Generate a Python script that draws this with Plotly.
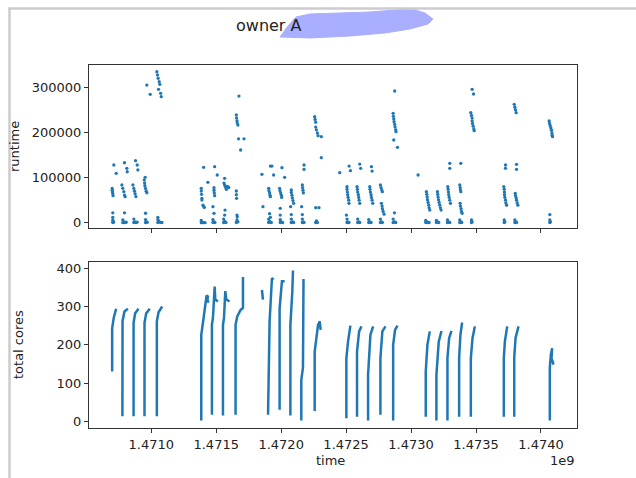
import plotly.graph_objects as go

# time is in units of 1e9 seconds (as shown on the axis with the "1e9" offset)
# ---------------- top panel: runtime of individual jobs ----------------
runtime_week1 = [
    (1.470704, 500), (1.470704, 6000), (1.470707, 3000), (1.470710, 1000), (1.470704, 12000), (1.470704, 22000),
    (1.470699, 76000), (1.470700, 72000), (1.470702, 68000), (1.470704, 64000), (1.470706, 60000),
    (1.470712, 128000), (1.470730, 109500),
    (1.470781, 0), (1.470781, 6000), (1.470789, 2000), (1.470797, 500), (1.470807, 1000), (1.470794, 22000),
    (1.470774, 83600), (1.470781, 76200), (1.470789, 68800), (1.470794, 61400), (1.470799, 57700),
    (1.470794, 133000), (1.470812, 120500), (1.470815, 113000),
    (1.470866, 500), (1.470866, 8000), (1.470874, 2000), (1.470884, 500), (1.470892, 1500),
    (1.470859, 83600), (1.470866, 76000), (1.470871, 70000), (1.470876, 64000), (1.470882, 58000),
    (1.470879, 137500), (1.470892, 128000), (1.470897, 117000),
    (1.470956, 500), (1.470956, 7000), (1.470961, 2000), (1.470969, 1000), (1.470956, 21000),
    (1.470946, 94700), (1.470949, 88000), (1.470951, 82000), (1.470956, 76000), (1.470961, 70000), (1.470966, 66500),
    (1.470953, 100600),
    (1.471051, 500), (1.471051, 7000), (1.471051, 12000), (1.471059, 3000), (1.471069, 800), (1.471082, 500),
    (1.471043, 334900), (1.471048, 327500), (1.471053, 320100), (1.471061, 312700), (1.471066, 306800),
    (1.471056, 295700), (1.471072, 286800), (1.471077, 279500),
    (1.470966, 305300), (1.470992, 284600),
]
runtime_week2 = [
    (1.471385, 0), (1.471393, 0), (1.471403, 300), (1.471414, 0), (1.471385, 5000),
    (1.471385, 76200), (1.471385, 70300), (1.471387, 62900), (1.471390, 54000), (1.471390, 50300),
    (1.471398, 39000), (1.471403, 37000), (1.471408, 34000),
    (1.471403, 122800), (1.471436, 89500),
    (1.471475, 500), (1.471475, 7000), (1.471483, 2000), (1.471490, 500), (1.471483, 20800), (1.471475, 35500),
    (1.471483, 77700), (1.471483, 72000), (1.471485, 66000), (1.471488, 60000),
    (1.471488, 124200), (1.471508, 105800),
    (1.471557, 500), (1.471557, 8000), (1.471565, 3000), (1.471575, 500), (1.471565, 17000), (1.471568, 28000),
    (1.471565, 98400), (1.471560, 88000), (1.471565, 83600), (1.471570, 79000), (1.471578, 74000),
    (1.471583, 79900), (1.471590, 79900), (1.471596, 78000),
    (1.471655, 500), (1.471660, 6000), (1.471662, 13000), (1.471667, 2000), (1.471660, 17000),
    (1.471655, 70300), (1.471655, 62000), (1.471657, 54000),
    (1.471655, 238800), (1.471657, 232000), (1.471660, 226000), (1.471662, 221000), (1.471667, 216600),
    (1.471675, 280900), (1.471672, 186000), (1.471714, 186000), (1.471688, 161200),
]
runtime_week3 = [
    (1.471852, 107200), (1.471860, 35500),
    (1.471904, 500), (1.471904, 8000), (1.471911, 3000), (1.471917, 12000), (1.471924, 500), (1.471911, 20000),
    (1.471904, 76200), (1.471906, 71000), (1.471911, 66000), (1.471914, 61000), (1.471917, 57700),
    (1.471917, 125700), (1.471929, 125700), (1.471942, 105800),
    (1.471993, 500), (1.471993, 7000), (1.472001, 2000), (1.472011, 500), (1.471993, 17000), (1.471993, 31900),
    (1.471988, 76200), (1.471991, 71000), (1.471996, 66000), (1.472001, 61000), (1.472004, 56000),
    (1.472006, 122000), (1.472027, 100600),
    (1.472078, 500), (1.472078, 8000), (1.472086, 2000), (1.472096, 500), (1.472073, 35500), (1.472078, 18000),
    (1.472078, 72500), (1.472078, 67000), (1.472083, 61000), (1.472086, 55000), (1.472091, 49000), (1.472096, 43000),
    (1.472163, 500), (1.472163, 8000), (1.472168, 2000), (1.472176, 500), (1.472158, 35500), (1.472163, 18000),
    (1.472163, 83600), (1.472165, 78000), (1.472168, 72000), (1.472171, 66000),
    (1.472176, 128000), (1.472176, 118300),
    (1.472266, 500), (1.472279, 500), (1.472271, 4000), (1.472266, 33300), (1.472291, 33300),
    (1.472258, 235100), (1.472261, 229000), (1.472266, 223000), (1.472266, 212000), (1.472271, 206000),
    (1.472279, 199000), (1.472284, 193000),
    (1.472309, 190800), (1.472309, 144200),
]
runtime_week4 = [
    (1.472451, 110900),
    (1.472507, 500), (1.472507, 8000), (1.472512, 2000), (1.472522, 500), (1.472502, 17000),
    (1.472507, 79900), (1.472507, 74000), (1.472510, 68000), (1.472512, 62000), (1.472515, 56000),
    (1.472520, 50000), (1.472522, 43000),
    (1.472523, 125700), (1.472533, 115300),
    (1.472589, 500), (1.472589, 8000), (1.472597, 2000), (1.472605, 500),
    (1.472584, 79900), (1.472587, 74000), (1.472589, 68000), (1.472594, 62000), (1.472597, 56000),
    (1.472600, 50000), (1.472605, 43000),
    (1.472605, 130100), (1.472612, 120500),
    (1.472674, 500), (1.472674, 7000), (1.472682, 2000), (1.472692, 500),
    (1.472682, 79900), (1.472684, 74000), (1.472687, 68000), (1.472692, 62000), (1.472695, 56000),
    (1.472700, 50000), (1.472705, 43000),
    (1.472695, 124200), (1.472700, 114600),
    (1.472764, 500), (1.472764, 8000), (1.472772, 2000), (1.472779, 500),
    (1.472764, 83600), (1.472769, 78000), (1.472774, 73000), (1.472779, 68800),
    (1.472772, 43000), (1.472777, 37000), (1.472779, 31000), (1.472785, 25000), (1.472792, 19000),
    (1.472862, 500), (1.472862, 8000), (1.472872, 2000), (1.472882, 500), (1.472872, 22000),
    (1.472862, 242500), (1.472864, 236000), (1.472867, 230000), (1.472869, 224000), (1.472874, 218000),
    (1.472877, 212000), (1.472882, 206000), (1.472884, 201800),
    (1.472874, 292000), (1.472867, 183400), (1.472895, 167100),
]
runtime_week5 = [
    (1.473054, 105800),
    (1.473113, 500), (1.473113, 5000), (1.473121, 2000), (1.473131, 500), (1.473139, 500),
    (1.473118, 68800), (1.473121, 63000), (1.473124, 57000), (1.473126, 51000), (1.473131, 45000),
    (1.473136, 39000), (1.473139, 33000), (1.473144, 28000),
    (1.473195, 500), (1.473195, 5000), (1.473203, 2000), (1.473213, 500),
    (1.473203, 68800), (1.473205, 63000), (1.473208, 57000), (1.473211, 51000), (1.473216, 45000),
    (1.473221, 39000), (1.473226, 33000), (1.473231, 28000),
    (1.473280, 500), (1.473280, 6000), (1.473288, 2000), (1.473298, 500),
    (1.473283, 79900), (1.473285, 74000), (1.473288, 68000), (1.473290, 62000), (1.473293, 56000),
    (1.473298, 50000), (1.473303, 43000),
    (1.473298, 131600), (1.473298, 120500),
    (1.473375, 500), (1.473375, 6000), (1.473383, 2000), (1.473390, 500),
    (1.473375, 83600), (1.473378, 78000), (1.473380, 73000), (1.473383, 68800),
    (1.473378, 43000), (1.473380, 37000), (1.473385, 31000), (1.473388, 25000), (1.473393, 20800),
    (1.473383, 131600),
    (1.473465, 500), (1.473465, 6000), (1.473470, 2000),
    (1.473460, 243900), (1.473465, 238000), (1.473470, 232000), (1.473470, 226000), (1.473473, 220000),
    (1.473478, 214000), (1.473483, 208000), (1.473486, 204100),
    (1.473470, 295700), (1.473481, 285400),
]
runtime_week6 = [
    (1.473717, 500), (1.473717, 6000), (1.473722, 2000),
    (1.473714, 79900), (1.473717, 74000), (1.473719, 68000), (1.473719, 62000), (1.473722, 56000),
    (1.473727, 50000), (1.473730, 44000), (1.473735, 39000),
    (1.473727, 128000), (1.473727, 120500),
    (1.473799, 500), (1.473799, 6000), (1.473807, 2000), (1.473812, 500),
    (1.473802, 65100), (1.473804, 60000), (1.473809, 55000), (1.473812, 50000), (1.473817, 44000), (1.473822, 39000),
    (1.473812, 129400), (1.473812, 118300),
    (1.473794, 262500), (1.473799, 256000), (1.473804, 250000), (1.473809, 244000),
    (1.474068, 500), (1.474068, 6000), (1.474073, 2000), (1.474068, 18000),
    (1.474063, 225500), (1.474066, 220000), (1.474071, 215000), (1.474076, 210000), (1.474081, 205000),
    (1.474084, 199000), (1.474086, 194000), (1.474089, 190800),
]

# ---------------- bottom panel: total cores in use (one run per burst) ----------------
cores_week1 = [
    [(1.470699, 130), (1.470699, 243), (1.470712, 272), (1.470730, 294)],
    [(1.470778, 13), (1.470779, 262), (1.470794, 287), (1.470820, 294)],
    [(1.470864, 13), (1.470864, 257), (1.470876, 282), (1.470902, 294)],
    [(1.470948, 13), (1.470948, 257), (1.470961, 282), (1.470989, 294)],
    [(1.471043, 13), (1.471043, 261), (1.471056, 285), (1.471084, 300)],
]
cores_week2 = [
    [(1.471385, 2), (1.471385, 226), (1.471403, 270), (1.471416, 300), (1.471426, 329), (1.471436, 326),
     (1.471431, 313), (1.471447, 313)],
    [(1.471467, 17), (1.471467, 252), (1.471475, 270), (1.471483, 313), (1.471488, 352), (1.471493, 318),
     (1.471513, 313)],
    [(1.471552, 15), (1.471552, 252), (1.471560, 270), (1.471565, 313), (1.471570, 340), (1.471578, 318),
     (1.471603, 313)],
    [(1.471649, 17), (1.471649, 252), (1.471662, 274), (1.471688, 291), (1.471706, 296), (1.471706, 377)],
]
cores_week3 = [
    [(1.471852, 343), (1.471860, 318)],
    [(1.471899, 17), (1.471911, 261), (1.471929, 374), (1.471942, 370)],
    [(1.471988, 30), (1.471988, 294), (1.472006, 366), (1.472027, 366)],
    [(1.472071, 15), (1.472071, 252), (1.472086, 340), (1.472091, 394)],
    [(1.472155, 2), (1.472155, 108), (1.472168, 140), (1.472172, 372)],
    [(1.472258, 27), (1.472258, 182), (1.472284, 252), (1.472297, 261), (1.472304, 239)],
]
cores_week4 = [
    [(1.472446, 239), (1.472447, 239)],
    [(1.472502, 8), (1.472502, 165), (1.472515, 209), (1.472533, 250)],
    [(1.472584, 12), (1.472584, 182), (1.472600, 235), (1.472618, 248)],
    [(1.472669, 2), (1.472669, 121), (1.472687, 226), (1.472708, 248)],
    [(1.472764, 17), (1.472764, 165), (1.472779, 235), (1.472803, 248)],
    [(1.472862, 2), (1.472862, 200), (1.472877, 239), (1.472895, 250)],
]
cores_week5 = [
    [(1.473054, 239), (1.473055, 239)],
    [(1.473113, 12), (1.473113, 130), (1.473126, 200), (1.473144, 235)],
    [(1.473195, 2), (1.473195, 121), (1.473213, 208), (1.473234, 236)],
    [(1.473280, 2), (1.473280, 165), (1.473293, 217), (1.473311, 236)],
    [(1.473370, 12), (1.473370, 165), (1.473380, 226), (1.473393, 258)],
    [(1.473460, 12), (1.473460, 165), (1.473473, 217), (1.473491, 248)],
]
cores_week6 = [
    [(1.473714, 12), (1.473714, 165), (1.473722, 208), (1.473740, 248)],
    [(1.473794, 12), (1.473794, 165), (1.473804, 217), (1.473827, 248)],
    [(1.474068, 2), (1.474068, 139), (1.474076, 174), (1.474086, 191), (1.474081, 165), (1.474097, 148)],
]

x_ticks = [1.4710, 1.4715, 1.4720, 1.4725, 1.4730, 1.4735, 1.4740]
runtime_ticks = [0, 100000, 200000, 300000]
cores_ticks = [0, 100, 200, 300, 400]

BLUE = "#1f77b4"
TXT = "#222222"
FONT = "DejaVu Sans"

runtime_pts = (runtime_week1 + runtime_week2 + runtime_week3 +
               runtime_week4 + runtime_week5 + runtime_week6)
rt_x = [p[0] for p in runtime_pts]
rt_y = [p[1] for p in runtime_pts]

core_x, core_y = [], []
for run in cores_week1 + cores_week2 + cores_week3 + cores_week4 + cores_week5 + cores_week6:
    for t, v in run:
        core_x.append(t)
        core_y.append(v)
    core_x.append(None)
    core_y.append(None)

fig = go.Figure()
fig.add_trace(go.Scatter(x=rt_x, y=rt_y, mode="markers", xaxis="x", yaxis="y",
                         marker=dict(color=BLUE, size=3.3, line=dict(width=0)),
                         showlegend=False, hoverinfo="skip"))
fig.add_trace(go.Scatter(x=core_x, y=core_y, mode="lines", xaxis="x2", yaxis="y2",
                         line=dict(color=BLUE, width=2.5), connectgaps=False,
                         showlegend=False, hoverinfo="skip"))

axis_common = dict(showline=True, linecolor="#333333", linewidth=1, mirror=True,
                   ticks="outside", ticklen=4, tickcolor="#333333", showgrid=False,
                   zeroline=False, tickfont=dict(family=FONT, size=13, color=TXT))
xr = [1.4705208, 1.4742773]

fig.update_layout(
    width=636, height=478,
    margin=dict(l=89, r=59, t=65, b=50),
    paper_bgcolor="white", plot_bgcolor="white",
    font=dict(family=FONT, size=13, color=TXT),
    xaxis=dict(domain=[0, 1], anchor="y", range=xr, tickvals=x_ticks,
               showticklabels=False, **axis_common),
    xaxis2=dict(domain=[0, 1], anchor="y2", range=xr, tickvals=x_ticks,
                tickformat=".4f", matches="x", **axis_common),
    yaxis=dict(domain=[0.5501, 1], anchor="x", range=[-12400, 349700],
               tickvals=runtime_ticks, tickformat="d", **axis_common),
    yaxis2=dict(domain=[0, 0.4565], anchor="x2", range=[-17.5, 415.4],
                tickvals=cores_ticks, tickformat="d", **axis_common),
)

def px_x(p):
    return (p - 89) / 488.0

def px_y(p):
    return (428 - p) / 363.0

annos = [
    dict(text="owner A", x=px_x(234), y=px_y(25), xanchor="left", yanchor="middle",
         font=dict(size=16)),
    dict(text="runtime", x=px_x(14), y=px_y(147), textangle=-90, xanchor="center",
         yanchor="middle", font=dict(size=13)),
    dict(text="total cores", x=px_x(18), y=px_y(345), textangle=-90, xanchor="center",
         yanchor="middle", font=dict(size=13)),
    dict(text="time", x=px_x(330), y=px_y(461), xanchor="center", yanchor="middle",
         font=dict(size=13)),
    dict(text="1e9", x=px_x(577), y=px_y(461), xanchor="right", yanchor="middle",
         font=dict(size=13)),
]
for a in annos:
    a.update(xref="paper", yref="paper", showarrow=False)
    fig.add_annotation(**a)

# redaction blob over the title (as in the source screenshot)
blob = [(280, 37), (288, 26), (296, 17), (310, 14), (340, 13), (370, 12), (395, 10),
        (412, 9), (425, 13), (433, 19), (428, 24), (410, 29), (385, 33), (350, 36), (310, 38)]
path = "M " + " L ".join(f"{px_x(a):.4f},{px_y(b):.4f}" for a, b in blob) + " Z"
fig.add_shape(type="path", path=path, xref="paper", yref="paper",
              fillcolor="#aaaeff", line=dict(color="#aaaeff", width=1), layer="above")

# screenshot frame lines
fig.add_shape(type="line", xref="paper", yref="paper", x0=px_x(9.5), x1=px_x(9.5),
              y0=px_y(8), y1=px_y(478), line=dict(color="#cccccc", width=2.5))
fig.add_shape(type="line", xref="paper", yref="paper", x0=px_x(8), x1=px_x(636),
              y0=px_y(8.5), y1=px_y(8.5), line=dict(color="#cccccc", width=2.5))

fig.write_html("out.html", config={"displayModeBar": False},
               post_script="document.body.style.margin='0';document.body.style.overflow='hidden';")
